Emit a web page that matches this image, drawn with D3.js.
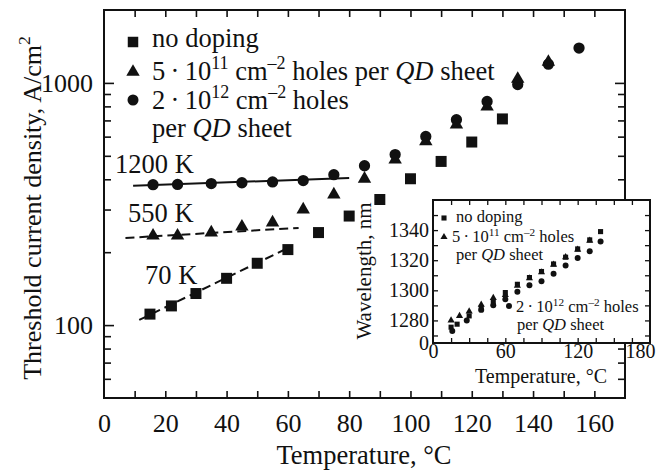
<!DOCTYPE html>
<html>
<head>
<meta charset="utf-8">
<script src="https://cdn.jsdelivr.net/npm/d3@7"></script>
<style>
  body { margin: 0; background: #fff; }
  svg { display: block; font-family: "Liberation Serif", "Times New Roman", serif; }
  text { fill: #111; }
</style>
</head>
<body>
<div id="viz"></div>
<script>
// ---- main chart data (threshold current density vs temperature) ----
const tempNoDoping = [15, 22, 30, 40, 50, 60, 70, 80, 90, 100, 110, 120, 130];
const jNoDoping    = [111, 120, 135, 156, 180, 205, 241, 282, 330, 402, 474, 570, 710];

const temp5e11 = [16, 24, 35, 45, 55, 65, 75, 85, 95, 105, 115, 125, 135, 145];
const j5e11    = [234, 234, 241, 255, 265, 300, 346, 402, 482, 573, 672, 798, 1038, 1220];

const temp2e12 = [16, 24, 35, 45, 55, 65, 75, 85, 95, 105, 115, 125, 135, 145, 155];
const j2e12    = [380, 381, 384, 387, 390, 395, 418, 455, 506, 601, 705, 838, 985, 1195, 1393];

// fitted lines J = J0 exp(T/T0): end points [temperature, J]
const fit1200K = [[9.5, 376], [80, 405]];
const fit550K  = [[7, 229], [63.5, 252]];
const fit70K   = [[11.5, 105], [60, 208]];

const xTickLabels = [0, 20, 40, 60, 80, 100, 120, 140, 160];
const xTicksAll   = [10, 20, 30, 40, 50, 60, 70, 80, 90, 100, 110, 120, 130, 140, 150, 160];
const yTickLabels = [100, 1000];
const yTicksMinor = [60, 70, 80, 90, 200, 300, 400, 500, 600, 700, 800, 900];

// ---- inset data (lasing wavelength vs temperature) ----
const wlTempNoDoping = [15, 20, 30, 40, 50, 60, 70, 80, 90, 100, 110, 120, 130, 139];
const wlNoDoping     = [1275.5, 1277.5, 1283, 1288, 1292, 1298.5, 1304, 1308.5, 1312.5, 1317.5, 1322, 1327.5, 1333.5, 1339];
const wlTemp5e11 = [15, 22, 30, 40, 50, 60, 70, 80, 90, 100, 110, 120, 130];
const wl5e11     = [1280, 1283, 1286, 1290.5, 1295, 1297, 1303, 1308, 1312, 1317, 1322, 1327, 1333];
const wlTemp2e12 = [16, 28, 40, 50, 60, 70, 80, 90, 100, 110, 120, 130, 139];
const wl2e12     = [1273, 1280, 1287, 1290, 1294, 1299, 1303.3, 1306, 1311, 1316.5, 1321.5, 1326, 1332.5];

const insetXTickLabels = [0, 60, 120, 180];
const insetXTicksAll   = [15, 30, 45, 60, 75, 90, 105, 120, 135, 150, 165];
const insetYTickLabels = [1265, 1280, 1300, 1320, 1340];   // bottom one is shown as "0" (broken axis)
const insetYTicksAll   = [1270, 1280, 1290, 1300, 1310, 1320, 1330, 1340, 1350];

const W = 656, H = 473;
const svg = d3.select("#viz").append("svg").attr("width", W).attr("height", H);

// text with superscripts / italics
function richText(g, x, y, parts, size, rise) {
    rise = rise || 0.42;
    const t = g.append("text").attr("x", x).attr("y", y).style("font-size", size + "px");
    let up = 0;
    parts.forEach(function (p) {
        const s = t.append("tspan").text(p.t);
        if (p.sup) {
            s.attr("dy", -size * rise).style("font-size", (size * 0.68) + "px");
            up = size * rise;
        } else if (up) {
            s.attr("dy", up);
            up = 0;
        }
        if (p.it) s.style("font-style", "italic");
    });
    return t;
}

function markers(g, xs, ys, xScale, yScale, type, size) {
    g.append("g").selectAll("path")
        .data(xs.map((d, i) => [d, ys[i]]))
        .join("path")
        .attr("transform", d => `translate(${xScale(d[0])},${yScale(d[1])})`)
        .attr("d", d3.symbol().type(type).size(size))
        .attr("fill", "#111");
}

function plotMain() {
    const x = d3.scaleLinear().domain([0, 170]).range([104, 625]);
    const y = d3.scaleLog().domain([50, 2000]).range([398, 10]);
    const g = svg.append("g");

    // axes (ticks point inwards)
    const tickFont = g => g.selectAll("text").style("font-size", "26px").style("font-family", "Liberation Serif").attr("fill", "#111");
    const clean = g => { g.select(".domain").remove(); g.selectAll("line").attr("stroke", "#111").attr("stroke-width", 1.6); };

    g.append("g").attr("transform", "translate(0,398)")
        .call(d3.axisBottom(x).tickValues(xTicksAll).tickSize(-7).tickFormat(""))
        .call(clean);
    g.append("g").attr("transform", "translate(0,398)")
        .call(d3.axisBottom(x).tickValues(xTickLabels).tickSize(0).tickPadding(16))
        .call(clean).call(tickFont);
    g.append("g").attr("transform", "translate(0,10)")
        .call(d3.axisTop(x).tickValues(xTicksAll).tickSize(-7).tickFormat(""))
        .call(clean);

    g.append("g").attr("transform", "translate(104,0)")
        .call(d3.axisLeft(y).tickValues(yTickLabels).tickSize(-10).tickPadding(11).tickFormat(d3.format("d")))
        .call(clean).call(tickFont);
    g.append("g").attr("transform", "translate(104,0)")
        .call(d3.axisLeft(y).tickValues(yTicksMinor).tickSize(-7).tickFormat(""))
        .call(clean);
    g.append("g").attr("transform", "translate(625,0)")
        .call(d3.axisRight(y).tickValues(yTickLabels).tickSize(-10).tickFormat(""))
        .call(clean);
    g.append("g").attr("transform", "translate(625,0)")
        .call(d3.axisRight(y).tickValues(yTicksMinor).tickSize(-7).tickFormat(""))
        .call(clean);

    g.append("rect")
        .attr("x", 104).attr("y", 10).attr("width", 521).attr("height", 388)
        .attr("fill", "none").attr("stroke", "#111").attr("stroke-width", 2);

    // fitted lines
    const line = d3.line().x(d => x(d[0])).y(d => y(d[1]));
    [[fit1200K, null], [fit550K, "9,5"], [fit70K, "9,5"]].forEach(function (f) {
        g.append("path").attr("d", line(f[0]))
            .attr("fill", "none").attr("stroke", "#111").attr("stroke-width", 2)
            .attr("stroke-dasharray", f[1]);
    });

    markers(g, tempNoDoping, jNoDoping, x, y, d3.symbolSquare, 121);
    markers(g, temp2e12, j2e12, x, y, d3.symbolCircle, 100);
    markers(g, temp5e11, j5e11, x, y, d3.symbolTriangle, 78);

    // annotations
    richText(g, 115, 173, [{t: "1200 K"}], 26.5);
    richText(g, 128, 222, [{t: "550 K"}], 26.5);
    richText(g, 145, 284, [{t: "70 K"}], 26.5);

    // legend
    const lg = g.append("g");
    lg.append("path").attr("transform", "translate(133,42)").attr("d", d3.symbol().type(d3.symbolSquare).size(110)).attr("fill", "#111");
    lg.append("path").attr("transform", "translate(133,72)").attr("d", d3.symbol().type(d3.symbolTriangle).size(78)).attr("fill", "#111");
    lg.append("path").attr("transform", "translate(133,100)").attr("d", d3.symbol().type(d3.symbolCircle).size(95)).attr("fill", "#111");
    richText(lg, 152, 47, [{t: "no doping"}], 26.5);
    richText(lg, 152, 80, [{t: "5\u2009·\u200910"}, {t: "11", sup: true}, {t: " cm"}, {t: "–2", sup: true}, {t: " holes per "}, {t: "QD", it: true}, {t: " sheet"}], 26.5);
    richText(lg, 152, 109, [{t: "2\u2009·\u200910"}, {t: "12", sup: true}, {t: " cm"}, {t: "–2", sup: true}, {t: " holes"}], 26.5);
    richText(lg, 152, 137, [{t: "per "}, {t: "QD", it: true}, {t: " sheet"}], 26.5);

    // axis titles
    g.append("text").attr("x", 364).attr("y", 464).attr("text-anchor", "middle")
        .style("font-size", "26.5px").text("Temperature, °C");
    richText(g, 0, 0, [{t: "Threshold current density, A/cm"}, {t: "2", sup: true}], 26)
        .attr("text-anchor", "middle")
        .attr("transform", "translate(41,208) rotate(-90)");
}

function plotInset() {
    const x = d3.scaleLinear().domain([0, 180]).range([433, 650]);
    const y = d3.scaleLinear().domain([1265, 1360]).range([343, 200]);
    const g = svg.append("g");

    g.append("rect").attr("x", 433).attr("y", 200).attr("width", 217).attr("height", 143).attr("fill", "#fff");

    const tickFont = g => g.selectAll("text").style("font-size", "20px").style("font-family", "Liberation Serif").attr("fill", "#111");
    const clean = g => { g.select(".domain").remove(); g.selectAll("line").attr("stroke", "#111").attr("stroke-width", 1.3); };

    g.append("g").attr("transform", "translate(0,343)")
        .call(d3.axisBottom(x).tickValues(insetXTicksAll).tickSize(-5).tickFormat(""))
        .call(clean);
    g.append("g").attr("transform", "translate(0,343)")
        .call(d3.axisBottom(x).tickValues(insetXTickLabels).tickSize(0).tickPadding(1))
        .call(clean).call(tickFont)
        .selectAll("text").filter(d => d === 180)
        .attr("text-anchor", "end").attr("x", 5);
    g.append("g").attr("transform", "translate(0,200)")
        .call(d3.axisTop(x).tickValues(insetXTicksAll).tickSize(-5).tickFormat(""))
        .call(clean);
    g.append("g").attr("transform", "translate(433,0)")
        .call(d3.axisLeft(y).tickValues(insetYTicksAll).tickSize(-5).tickFormat(""))
        .call(clean);
    g.append("g").attr("transform", "translate(433,0)")
        .call(d3.axisLeft(y).tickValues(insetYTickLabels).tickSize(0).tickPadding(4)
            .tickFormat(d => d === insetYTickLabels[0] ? "0" : d))
        .call(clean).call(tickFont);
    g.append("g").attr("transform", "translate(650,0)")
        .call(d3.axisRight(y).tickValues(insetYTicksAll).tickSize(-5).tickFormat(""))
        .call(clean);

    g.append("rect").attr("x", 433).attr("y", 200).attr("width", 217).attr("height", 143)
        .attr("fill", "none").attr("stroke", "#111").attr("stroke-width", 2);

    markers(g, wlTempNoDoping, wlNoDoping, x, y, d3.symbolSquare, 26);
    markers(g, wlTemp2e12, wl2e12, x, y, d3.symbolCircle, 28);
    markers(g, wlTemp5e11, wl5e11, x, y, d3.symbolTriangle, 22);

    // inset legend
    g.append("path").attr("transform", "translate(444,218)").attr("d", d3.symbol().type(d3.symbolSquare).size(26)).attr("fill", "#111");
    g.append("path").attr("transform", "translate(444,237)").attr("d", d3.symbol().type(d3.symbolTriangle).size(22)).attr("fill", "#111");
    g.append("path").attr("transform", "translate(509,306)").attr("d", d3.symbol().type(d3.symbolCircle).size(28)).attr("fill", "#111");
    richText(g, 456, 222, [{t: "no doping"}], 16.5);
    richText(g, 452, 242, [{t: "5\u2009·\u200910"}, {t: "11", sup: true}, {t: " cm"}, {t: "–2", sup: true}, {t: " holes"}], 16.5, 0.36);
    richText(g, 456, 260, [{t: "per "}, {t: "QD", it: true}, {t: " sheet"}], 16.5);
    richText(g, 516, 312, [{t: "2\u2009·\u200910"}, {t: "12", sup: true}, {t: " cm"}, {t: "–2", sup: true}, {t: " holes"}], 16.5, 0.36);
    richText(g, 517, 330, [{t: "per "}, {t: "QD", it: true}, {t: " sheet"}], 16.5);

    // titles
    g.append("text").attr("x", 541).attr("y", 383).attr("text-anchor", "middle")
        .style("font-size", "20px").text("Temperature, °C");
    g.append("text").attr("text-anchor", "middle")
        .attr("transform", "translate(371,271) rotate(-90)")
        .style("font-size", "21px").text("Wavelength, nm");
}

plotMain();
plotInset();
</script>
</body>
</html>
